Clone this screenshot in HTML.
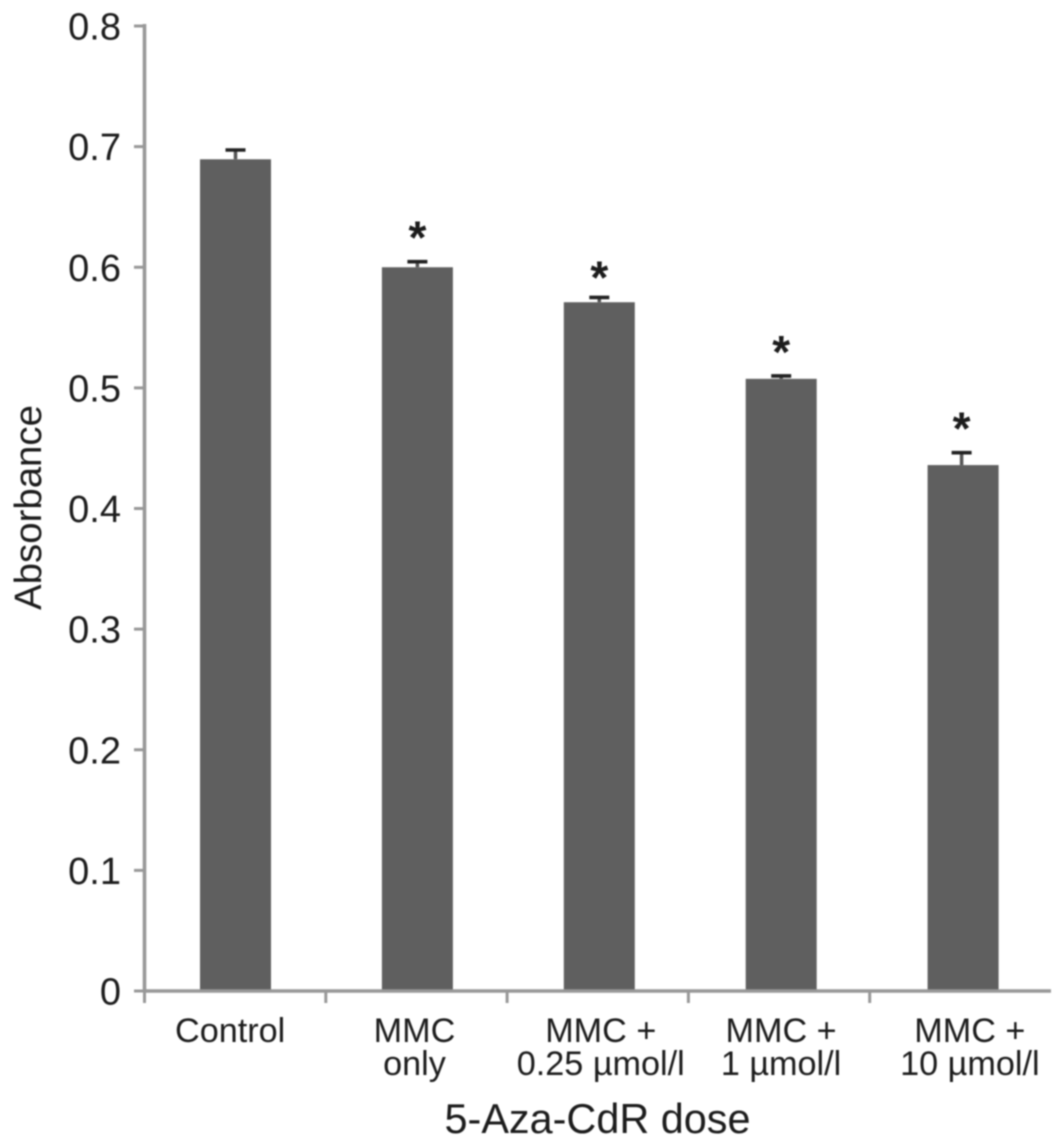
<!DOCTYPE html>
<html lang="en">
<head>
<meta charset="utf-8">
<title>Absorbance by 5-Aza-CdR dose</title>
<style>
  html, body { margin: 0; padding: 0; background: #fff; }
  svg { display: block; filter: blur(0.7px); }
  text { font-family: "Liberation Sans", sans-serif; fill: #1c1c1c; }
</style>
</head>
<body>
<svg id="chart" width="1063" height="1143" viewBox="0 0 1063 1143" xmlns="http://www.w3.org/2000/svg">
  <rect x="0" y="0" width="1063" height="1143" fill="#ffffff"></rect>
  <g id="bars"></g>
  <g id="y-axis"></g>
  <g id="x-axis"></g>
  <text transform="translate(41 507.5) rotate(-90)" text-anchor="middle" font-size="38.4">Absorbance</text>
  <text x="597.5" y="1133" text-anchor="middle" font-size="41.4">5-Aza-CdR dose</text>
</svg>
<script>
const categories = [
  ["Control"],
  ["MMC", "only"],
  ["MMC +", "0.25 µmol/l"],
  ["MMC +", "1 µmol/l"],
  ["MMC +", "10 µmol/l"]
];
const absorbance = [0.6895, 0.600, 0.571, 0.5075, 0.436];
const errors = [0.0077, 0.0046, 0.004, 0.0024, 0.0103];
const significant = [false, true, true, true, true];
const yTicks = [0, 0.1, 0.2, 0.3, 0.4, 0.5, 0.6, 0.7, 0.8];
const yTickLabels = ["0", "0.1", "0.2", "0.3", "0.4", "0.5", "0.6", "0.7", "0.8"];

const NS = "http://www.w3.org/2000/svg";
const AXIS_COLOR = "#989898";
const plotLeft = 144.5, plotRight = 1051, plotBottom = 991, plotTop = 26;
const yMax = 0.8;
const bandWidth = (plotRight - plotLeft) / categories.length;
const barWidth = 71;
const barStart = 235.5, barStep = 181.9;
const labelShift = [-5, -2, 3, 2, 9.5];
const errorShift = [0, 0, 0, 0, -1.5];
const starGap = [0, 8, 4, 8, 8];

function yScale(v) {
  return plotBottom - (v / yMax) * (plotBottom - plotTop);
}
function xBand(i) {
  return plotLeft + bandWidth * i;
}
function xCenter(i) {
  return xBand(i) + bandWidth / 2;
}
function xBar(i) {
  return barStart + barStep * i;
}
function make(tag, parent, props) {
  const el = document.createElementNS(NS, tag);
  for (const k in props) el.setAttribute(k, props[k]);
  parent.appendChild(el);
  return el;
}

const barsG = document.getElementById("bars");
const yG = document.getElementById("y-axis");
const xG = document.getElementById("x-axis");

categories.forEach(function (lines, i) {
  const cx = xBar(i);
  const ex = cx + errorShift[i];
  const top = yScale(absorbance[i]);
  const capY = yScale(absorbance[i] + errors[i]);

  const stem = make("line", barsG, { x1: ex, x2: ex, y1: top, y2: capY, stroke: "#555555", "stroke-width": 3.5 });
  
  

  const cap = make("line", barsG, { x1: ex - 10, x2: ex + 10, y1: capY, y2: capY, stroke: "#222222", "stroke-width": 3.6 });
  
  

  const bar = make("rect", barsG, { x: cx - barWidth / 2, y: top, width: barWidth, height: plotBottom - top, fill: "#5f5f5f" });
  
  

  if (significant[i]) {
    const star = make("text", barsG, { x: ex, y: capY - starGap[i], "text-anchor": "middle", "font-size": 46, "font-weight": "bold" });
    star.textContent = "*";
    
    
  }

  lines.forEach(function (line, j) {
    const label = make("text", xG, { x: xCenter(i) + labelShift[i], y: 1042 + j * 33, "text-anchor": "middle", "font-size": 34.2 });
    label.textContent = line;
    
    
  });
});

yTicks.forEach(function (v, i) {
  const y = yScale(v);
  const tick = make("line", yG, { x1: 134, x2: plotLeft, y1: y, y2: y, stroke: AXIS_COLOR, "stroke-width": 3 });
  
  

  const label = make("text", yG, { x: 121, y: y + 13.5, "text-anchor": "end", "font-size": 38 });
  label.textContent = yTickLabels[i];
  
  
});

const yLine = make("line", yG, { x1: plotLeft, x2: plotLeft, y1: 24, y2: plotBottom, stroke: AXIS_COLOR, "stroke-width": 3.6 });



const xLine = make("line", xG, { x1: plotLeft, x2: plotRight, y1: plotBottom, y2: plotBottom, stroke: AXIS_COLOR, "stroke-width": 3.6 });



for (let i = 0; i < categories.length; i++) {
  const t = make("line", xG, { x1: xBand(i), x2: xBand(i), y1: plotBottom, y2: 1003, stroke: AXIS_COLOR, "stroke-width": 3 });
  
  
}
</script>
</body>
</html>
